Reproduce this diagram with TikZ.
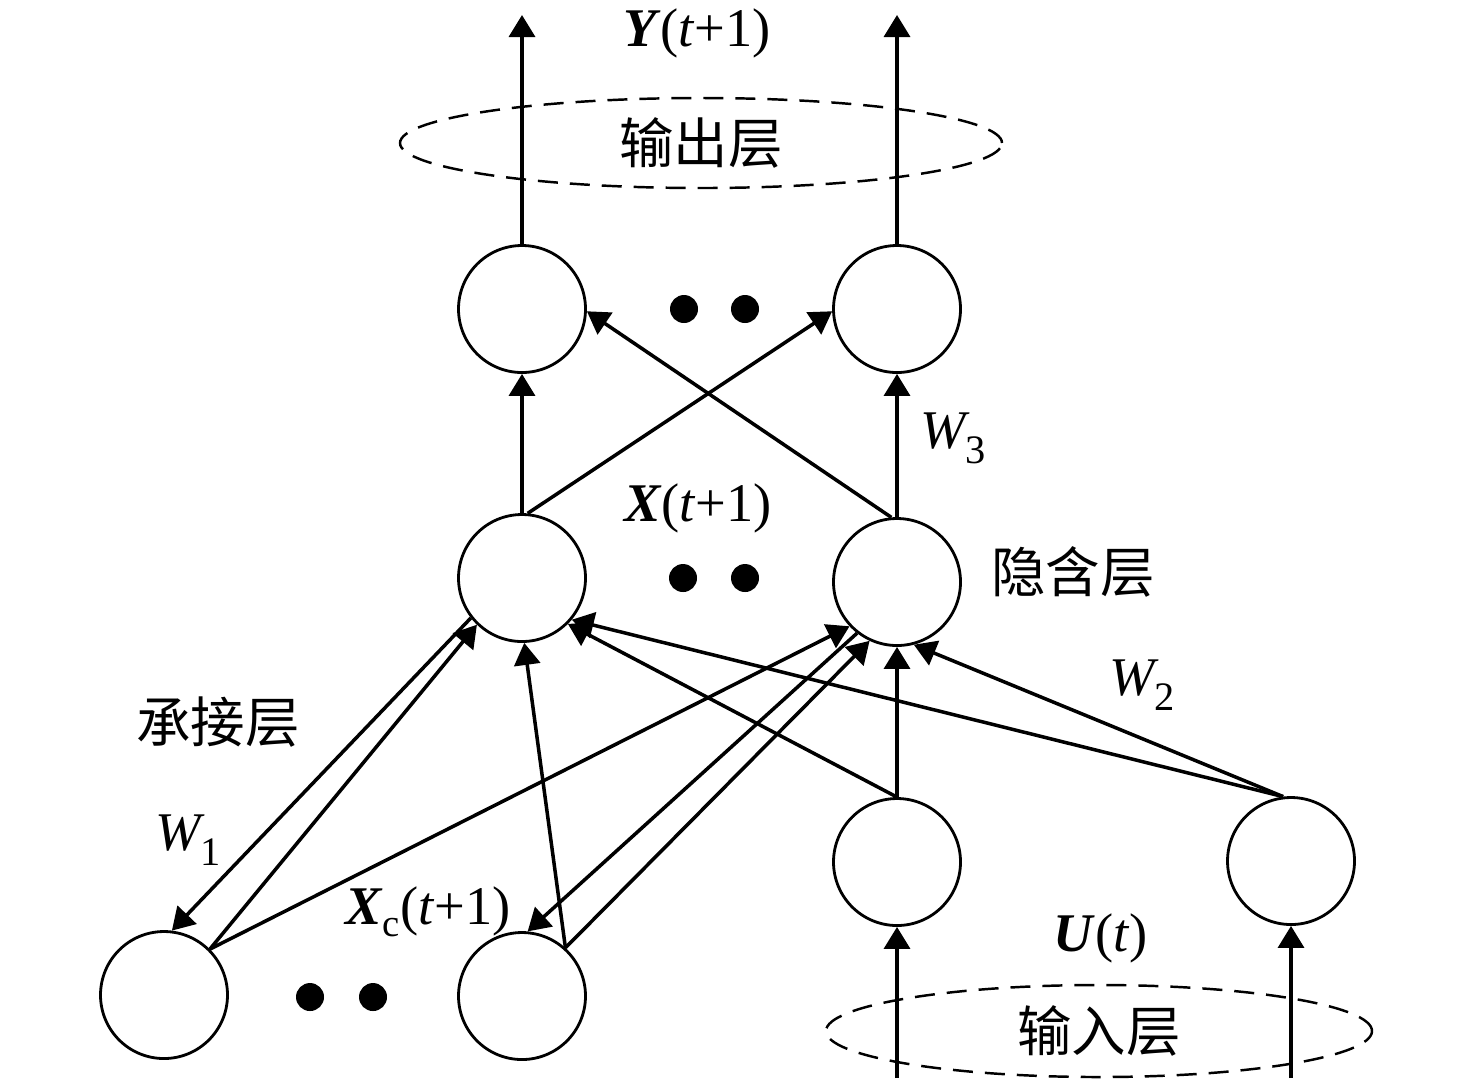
\documentclass[tikz,border=0pt]{standalone}
\usepackage{fontspec}
\setmainfont{Liberation Serif}
\newfontfamily\cjk{Noto Sans CJK SC}
\usetikzlibrary{arrows.meta, shapes.geometric}

\begin{document}
\begin{tikzpicture}[>={Triangle[length=2.2mm,width=2.6mm]}, line width=1pt,
    neuron/.style={circle, draw, line width=0.8pt, inner sep=0pt, minimum size=1.27cm},
    layer/.style={ellipse, draw, dash pattern=on 2mm off 1.2mm, line width=0.7pt, inner sep=0pt, font=\cjk\fontsize{15.5}{16}\selectfont},
    lbl/.style={inner sep=1pt, font=\fontsize{15.5}{16}\selectfont},
    cjklbl/.style={inner sep=1pt, font=\cjk\fontsize{15.5}{16}\selectfont},
    dot/.style={circle, fill, inner sep=0pt, minimum size=0.28cm}]
    \useasboundingbox (0,0) rectangle (14.76,-10.90);

    \node[layer, minimum width=6.02cm, minimum height=0.9cm] (outL) at (7.01,-1.43) {输出层};
    \node[layer, minimum width=5.46cm, minimum height=0.92cm] (inL) at (10.99,-10.31) {输入层};

    \node[neuron] (O1) at (5.22,-3.09) {};
    \node[neuron] (O2) at (8.97,-3.09) {};
    \node[neuron] (H1) at (5.22,-5.78) {};
    \node[neuron] (H2) at (8.97,-5.82) {};
    \node[neuron] (C1) at (1.64,-9.95) {};
    \node[neuron] (C2) at (5.22,-9.96) {};
    \node[neuron] (I1) at (8.97,-8.62) {};
    \node[neuron] (I2) at (12.91,-8.61) {};

    \node[dot] (o1) at (6.84,-3.09) {};
    \node[dot] (o2) at (7.45,-3.09) {};
    \node[dot] (h1) at (6.83,-5.78) {};
    \node[dot] (h2) at (7.45,-5.78) {};
    \node[dot] (c1) at (3.10,-9.97) {};
    \node[dot] (c2) at (3.73,-9.97) {};

    \coordinate (y1) at (5.22,-0.15);
    \coordinate (y2) at (8.97,-0.15);
    \coordinate (u1) at (8.97,-10.78);
    \coordinate (u2) at (12.91,-10.78);

    \node[lbl] (Y) at (6.97,-0.33) {\textbf{\textit{Y}}(\textit{t}+1)};
    \node[lbl] (X) at (6.98,-5.08) {\textbf{\textit{X}}(\textit{t}+1)};
    \node[lbl] (Xc) at (4.28,-9.12) {\textbf{\textit{X}}\raisebox{-0.5ex}{\fontsize{11}{11}\selectfont c}(\textit{t}+1)};
    \node[lbl] (U) at (11.01,-9.38) {\textbf{\textit{U}}(\textit{t})};
    \node[lbl] (W1) at (1.88,-8.40) {\textit{W}\kern-0.08em\raisebox{-0.6ex}{\fontsize{11.5}{11}\selectfont 1}};
    \node[lbl] (W2) at (11.42,-6.85) {\textit{W}\kern-0.08em\raisebox{-0.6ex}{\fontsize{11.5}{11}\selectfont 2}};
    \node[lbl] (W3) at (9.53,-4.38) {\textit{W}\kern-0.08em\raisebox{-0.6ex}{\fontsize{11.5}{11}\selectfont 3}};
    \node[cjklbl] (hid) at (10.73,-5.72) {隐含层};
    \node[cjklbl] (ctx) at (2.18,-7.22) {承接层};

    \draw[->] (O1) -- (y1);
    \draw[->] (O2) -- (y2);
    \draw[->] (H1) -- (O1);
    \draw[->] (H2) -- (O2);
    \draw[->] (H1.85) -- (O2.182);
    \draw[->] (H2.95) -- (O1.358);

    \draw[->] (u1) -- (I1);
    \draw[->] (u2) -- (I2);
    \draw[->] (I1) -- (H2);
    \draw[->] (I1.north) -- (H1.315);
    \draw[->] (I2.97) -- (H2.285);
    \draw[->] (I2.97) -- (H1.320);

    \draw[->] (H1.218) -- (C1.83);
    \draw[->] (C1.45) -- (H1.226);
    \draw[->] (C1.45) -- (H2.223);
    \draw[->] (C2.48) -- (H1.272);
    \draw[->] (H2.232) -- (C2.85);
    \draw[->] (C2.48) -- (H2.245);
\end{tikzpicture}
\end{document}
